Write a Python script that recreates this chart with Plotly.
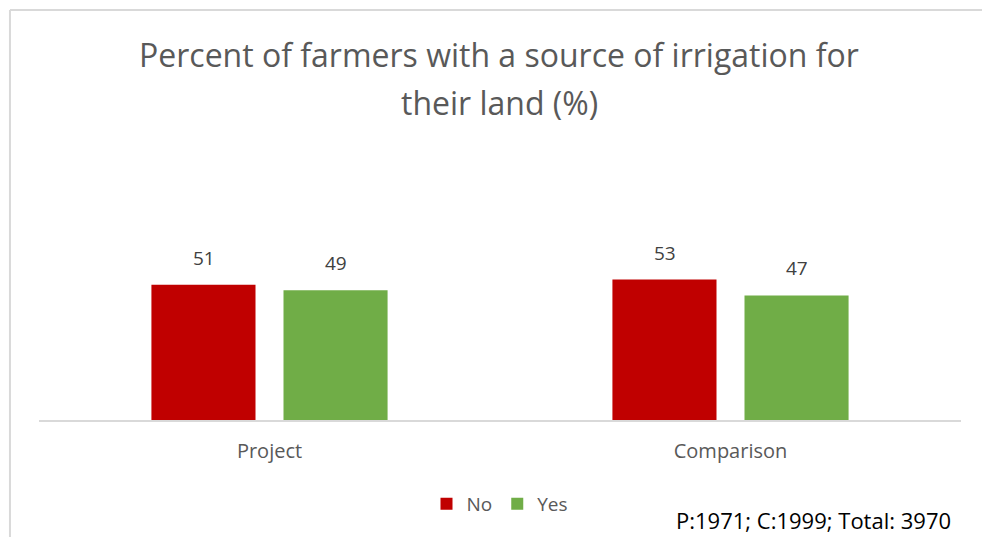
import plotly.graph_objects as go

categories = ["Project", "Comparison"]
no_values = [51, 53]
yes_values = [49, 47]
sample_note = "P:1971; C:1999; Total: 3970"
title_lines = ["Percent of farmers with a source of irrigation for", "their land (%)"]

FONT = "Open Sans"
GREY_TEXT = "#595959"
LINE = "#d9d9d9"

# plot area in pixels: x 39..961, y 155..420
PLOT_H = 265.0


def py(pixel_y):
    """Convert a pixel row to paper y."""
    return (420.0 - pixel_y) / PLOT_H


fig = go.Figure()
fig.add_trace(go.Bar(
    name="No", x=categories, y=no_values,
    marker=dict(color="#c00000", line=dict(width=0)),
))
fig.add_trace(go.Bar(
    name="Yes", x=categories, y=yes_values,
    marker=dict(color="#70ad47", line=dict(width=0)),
))

# value labels above each bar
for series, shift in ((no_values, -66), (yes_values, 66)):
    for cat, val in zip(categories, series):
        fig.add_annotation(
            x=cat, y=val, xref="x", yref="y", text=str(val),
            showarrow=False, xshift=shift, yanchor="bottom", yshift=12,
            font=dict(family=FONT, size=19, color="#404040"),
        )

# two-line chart title
for line, y_px in zip(title_lines, (54, 102)):
    fig.add_annotation(
        text=line, xref="paper", yref="paper",
        x=(499 - 39) / 922.0, xanchor="center", y=py(y_px), yanchor="middle",
        showarrow=False, font=dict(family=FONT, size=32, color=GREY_TEXT),
    )

fig.update_layout(
    width=982, height=537,
    margin=dict(l=39, r=21, t=155, b=117),
    paper_bgcolor="white", plot_bgcolor="white",
    barmode="group", bargap=0.427, bargroupgap=0.212,
    xaxis=dict(
        showgrid=False, showline=True, linecolor=LINE, linewidth=2,
        ticks="", tickfont=dict(family=FONT, size=20, color=GREY_TEXT),
        ticklabelstandoff=12,
    ),
    yaxis=dict(range=[0, 100], visible=False, showgrid=False),
    showlegend=True,
    legend=dict(
        orientation="h", x=(500 - 39) / 922.0, xanchor="center",
        y=py(504), yanchor="middle",
        font=dict(family=FONT, size=19, color=GREY_TEXT),
        itemwidth=30, traceorder="normal",
    ),
)

# sample size note in the lower right corner
fig.add_annotation(
    text=sample_note, xref="paper", yref="paper",
    x=(953 - 39) / 922.0, xanchor="right", y=py(520), yanchor="middle",
    showarrow=False, font=dict(family=FONT, size=22, color="#000000"),
)

# chart frame (top and left edges)
fig.add_shape(type="line", xref="paper", yref="paper",
              x0=-0.0315, x1=1.1, y0=py(10), y1=py(10),
              line=dict(color=LINE, width=2))
fig.add_shape(type="line", xref="paper", yref="paper",
              x0=-0.0315, x1=-0.0315, y0=py(10), y1=-0.5,
              line=dict(color=LINE, width=2))

fig.write_html("out.html")
